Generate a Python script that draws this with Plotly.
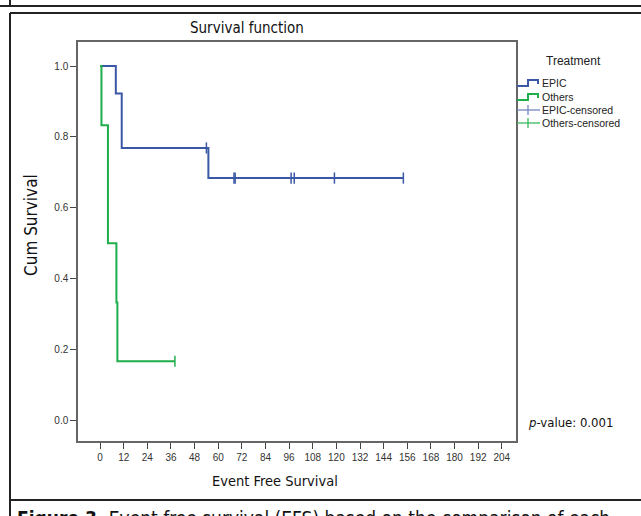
import plotly.graph_objects as go

# ---- data ----
epic_time = [0, 8, 11, 55, 154]
epic_surv = [1.0, 0.923, 0.769, 0.684, 0.684]
epic_cens_time = [54, 68, 68.6, 97, 98.6, 119, 154]
epic_cens_surv = [0.769, 0.684, 0.684, 0.684, 0.684, 0.684, 0.684]

others_time = [0, 0.7, 4, 8.3, 8.8, 38]
others_surv = [1.0, 0.833, 0.5, 0.333, 0.167, 0.167]
others_cens_time = [38]
others_cens_surv = [0.167]

x_ticks = list(range(0, 205, 12))
y_ticks = [0.0, 0.2, 0.4, 0.6, 0.8, 1.0]

legend_labels = ["EPIC", "Others", "EPIC-censored", "Others-censored"]

BLUE = "#3a58a6"
GREEN = "#1fae4c"
BLUE_C = "#7186c2"
GREEN_C = "#38b85c"

W, H = 641, 516
L, R, T, B = 78, 125, 42, 75
PW, PH = W - L - R, H - T - B

def px(x):
    return (x - L) / PW

def py(y):
    return (H - B - y) / PH

COND = "Liberation Sans Narrow, DejaVu Sans Condensed, Roboto Condensed, Arial Narrow, sans-serif"
ARIAL = "Liberation Sans, Arial, sans-serif"

fig = go.Figure()
fig.add_trace(go.Scatter(x=epic_time, y=epic_surv, mode="lines", line_shape="hv",
                         line=dict(color=BLUE, width=2), showlegend=False, hoverinfo="skip"))
fig.add_trace(go.Scatter(x=others_time, y=others_surv, mode="lines", line_shape="hv",
                         line=dict(color=GREEN, width=2), showlegend=False, hoverinfo="skip"))
fig.add_trace(go.Scatter(x=epic_cens_time, y=epic_cens_surv, mode="markers",
                         marker=dict(symbol="line-ns", size=8, line=dict(color=BLUE, width=1.5)),
                         showlegend=False, hoverinfo="skip"))
fig.add_trace(go.Scatter(x=others_cens_time, y=others_cens_surv, mode="markers",
                         marker=dict(symbol="line-ns", size=8, line=dict(color=GREEN, width=1.5)),
                         showlegend=False, hoverinfo="skip"))

shapes = []
# outer frame lines
frame = dict(color="#222", width=2)
shapes.append(dict(type="line", xref="paper", yref="paper", x0=px(0), x1=px(W), y0=py(6), y1=py(6), line=frame))
shapes.append(dict(type="line", xref="paper", yref="paper", x0=px(10), x1=px(10), y0=py(0), y1=py(6), line=frame))
shapes.append(dict(type="line", xref="paper", yref="paper", x0=px(10), x1=px(W), y0=py(13), y1=py(13), line=frame))
shapes.append(dict(type="line", xref="paper", yref="paper", x0=px(10), x1=px(10), y0=py(13), y1=py(H), line=frame))
shapes.append(dict(type="line", xref="paper", yref="paper", x0=px(10), x1=px(W), y0=py(500), y1=py(500), line=frame))

# custom legend
ann = []
rows = [83, 97, 110, 123]
for i, (lab, yy) in enumerate(zip(legend_labels, rows)):
    if i < 2:
        col = BLUE if i == 0 else GREEN
        path = "M {a},{b} L {c},{b} L {c},{d} L {e},{d} L {e},{f}".format(
            a=px(517), b=py(yy + 3), c=px(528), d=py(yy - 3), e=px(538), f=py(yy + 1))
        shapes.append(dict(type="path", xref="paper", yref="paper", path=path,
                           line=dict(color=col, width=2)))
    else:
        col = BLUE_C if i == 2 else GREEN_C
        shapes.append(dict(type="line", xref="paper", yref="paper", x0=px(517), x1=px(540),
                           y0=py(yy), y1=py(yy), line=dict(color=col, width=1.3)))
        shapes.append(dict(type="line", xref="paper", yref="paper", x0=px(528), x1=px(528),
                           y0=py(yy - 5), y1=py(yy + 5), line=dict(color=col, width=1.3)))
    ann.append(dict(xref="paper", yref="paper", x=px(540), y=py(yy), text=lab, showarrow=False,
                    xanchor="left", yanchor="middle", font=dict(family=ARIAL, size=10.5, color="#222")))

ann.append(dict(xref="paper", yref="paper", x=px(573), y=py(61), text="Treatment", showarrow=False,
                xanchor="center", yanchor="middle", font=dict(family=ARIAL, size=12, color="#222")))
ann.append(dict(xref="paper", yref="paper", x=px(247), y=py(28), text="Survival function", showarrow=False,
                xanchor="center", yanchor="middle", font=dict(family=COND, size=15, color="#111")))
ann.append(dict(xref="paper", yref="paper", x=px(275), y=py(481), text="Event Free Survival", showarrow=False,
                xanchor="center", yanchor="middle", font=dict(family=COND, size=14.5, color="#111")))
ann.append(dict(xref="paper", yref="paper", x=px(31), y=py(225), text="Cum Survival", showarrow=False,
                textangle=-90, xanchor="center", yanchor="middle", font=dict(family=COND, size=17, color="#111")))
ann.append(dict(xref="paper", yref="paper", x=px(526), y=py(422), text="<i>p</i>-value: 0.001", showarrow=False,
                xanchor="left", yanchor="middle", font=dict(family=COND, size=13, color="#111")))
ann.append(dict(xref="paper", yref="paper", x=px(15), y=py(505),
                text="<b>Figure 3.</b> Event free survival (EFS) based on the comparison of each",
                showarrow=False, xanchor="left", yanchor="top",
                font=dict(family=COND, size=19, color="#111")))

fig.update_layout(
    width=W, height=H,
    margin=dict(l=L, r=R, t=T, b=B),
    paper_bgcolor="white", plot_bgcolor="white",
    showlegend=False,
    shapes=shapes, annotations=ann,
    xaxis=dict(range=[-11.2, 211.2], tickvals=x_ticks, ticktext=[str(v) for v in x_ticks],
               ticks="outside", ticklen=6, tickcolor="#444", tickwidth=1.2,
               showline=True, mirror=True, linecolor="#666", linewidth=1.5,
               showgrid=False, zeroline=False,
               tickfont=dict(family=ARIAL, size=10, color="#333")),
    yaxis=dict(range=[-0.058, 1.068], tickvals=y_ticks, tickformat=".1f",
               ticks="outside", ticklen=6, tickcolor="#444", tickwidth=1.2,
               showline=True, mirror=True, linecolor="#666", linewidth=1.5,
               showgrid=False, zeroline=False,
               tickfont=dict(family=ARIAL, size=10, color="#333")),
)

fig.write_html("out.html", config={"displayModeBar": False},
               post_script="document.body.style.margin='0px';document.body.style.overflow='hidden';")
